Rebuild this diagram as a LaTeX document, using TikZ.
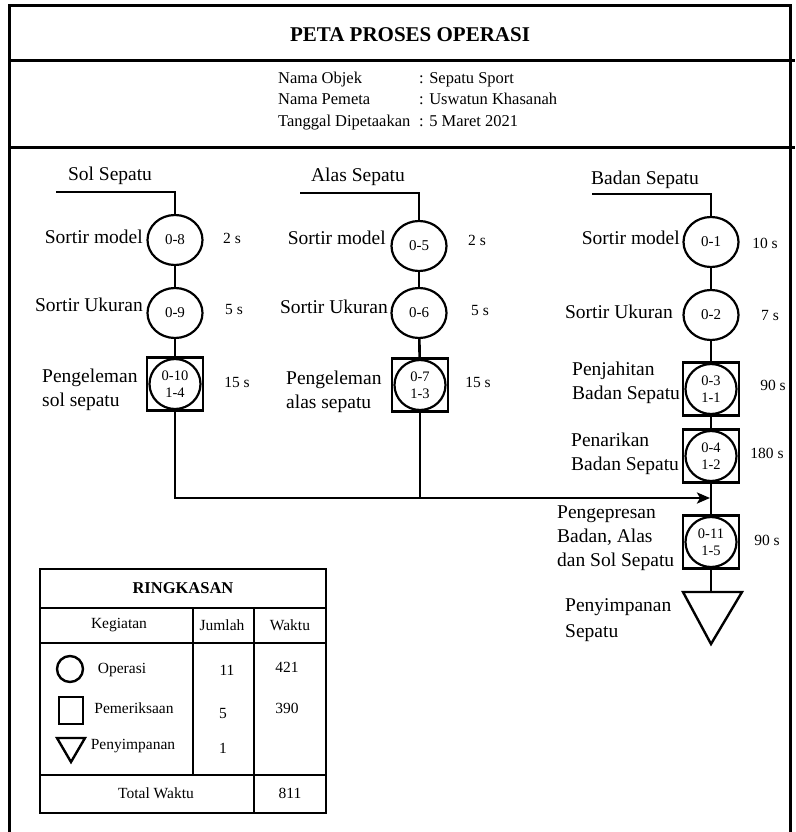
\documentclass[tikz,border=0pt]{standalone}
\usepackage{fontspec}
\setmainfont{Liberation Serif}
\usetikzlibrary{shapes.geometric,arrows.meta}
\begin{document}
\begin{tikzpicture}[x=1pt,y=-1pt,
 frame/.style={line width=3pt},
 conn/.style={line width=2.6pt},
 op/.style={draw,ellipse,line width=2.2pt,minimum width=55pt,minimum height=50pt,inner sep=0pt,font=\fontsize{15}{17}\selectfont},
 insp/.style={draw,rectangle,line width=2.4pt,minimum width=56pt,minimum height=53pt,inner sep=0pt},
 opin/.style={draw,ellipse,line width=2.2pt,minimum width=51pt,minimum height=50pt,inner sep=0pt,align=center,font=\fontsize{14.5}{17}\selectfont},
 lbl/.style={font=\fontsize{19.5}{24}\selectfont,inner sep=0pt},
 tm/.style={font=\fontsize{15.5}{18}\selectfont,inner sep=0pt},
 hd/.style={font=\fontsize{16.5}{20}\selectfont,inner sep=0pt,anchor=base west},
 tb/.style={font=\fontsize{15.5}{18}\selectfont,inner sep=0pt},
 tline/.style={line width=2.8pt},
 sym/.style={line width=2.4pt}]
\useasboundingbox (0,0) rectangle (795,832);

% frame
\draw[frame] (9,832) -- (9,6) -- (790,6) -- (790,832);
\draw[frame] (9,61) -- (795,61);
\draw[frame] (9,147) -- (795,147);

\node[font=\bfseries\fontsize{21}{25}\selectfont] (title) at (410,35) {PETA PROSES OPERASI};

\node[hd] (h1) at (278,84) {Nama Objek};
\node[hd] (h1v) at (419,84) {: Sepatu Sport};
\node[hd] (h2) at (278,105) {Nama Pemeta};
\node[hd] (h2v) at (419,105) {: Uswatun Khasanah};
\node[hd] (h3) at (278,127) {Tanggal Dipetaakan};
\node[hd] (h3v) at (419,127) {: 5 Maret 2021};

% column 1: Sol Sepatu
\coordinate (solstart) at (56,192);
\node[lbl] (solL) at (110,176) {Sol Sepatu};
\node[op] (o8) at (175,240) {0-8};
\node[op] (o9) at (175,313) {0-9};
\node[insp] (s10) at (175,384) {};
\node[opin] (c10) at (175,384) {0-10\\1-4};
\node[lbl,anchor=east] (l8) at (143,237) {Sortir model};
\node[lbl,anchor=east] (l9) at (143,305) {Sortir Ukuran};
\node[lbl,anchor=west,align=left] (l10) at (42,390) {Pengeleman\\sol sepatu};
\node[tm] (t8) at (232,238) {2 s};
\node[tm] (t9) at (234,309) {5 s};
\node[tm] (t10) at (237,382) {15 s};

% column 2: Alas Sepatu
\coordinate (alasstart) at (300,193);
\node[lbl] (alasL) at (358,177) {Alas Sepatu};
\node[op] (o5) at (419,246) {0-5};
\node[op] (o6) at (419,313) {0-6};
\node[insp] (s7) at (420,385) {};
\node[opin] (c7) at (420,385) {0-7\\1-3};
\node[lbl,anchor=east] (l5) at (386,238) {Sortir model};
\node[lbl,anchor=east] (l6) at (388,307) {Sortir Ukuran};
\node[lbl,anchor=west,align=left] (l7) at (286,392) {Pengeleman\\alas sepatu};
\node[tm] (t5) at (477,240) {2 s};
\node[tm] (t6) at (480,310) {5 s};
\node[tm] (t7) at (478,382) {15 s};

% column 3: Badan Sepatu
\coordinate (badanstart) at (592,194);
\node[lbl] (badanL) at (645,180) {Badan Sepatu};
\node[op] (o1) at (711,242) {0-1};
\node[op] (o2) at (711,315) {0-2};
\node[insp] (s3) at (711,389) {};
\node[opin] (c3) at (711,389) {0-3\\1-1};
\node[insp] (s4) at (711,456) {};
\node[opin] (c4) at (711,456) {0-4\\1-2};
\node[insp] (s11) at (711,542) {};
\node[opin] (c11) at (711,542) {0-11\\1-5};
\coordinate (tritop) at (711,592);
\coordinate (trileft) at (683,592);
\coordinate (triright) at (742,592);
\coordinate (tribot) at (711,644);
\draw[sym] (trileft) -- (triright) -- (tribot) -- cycle;

\node[lbl,anchor=east] (l1) at (680,238) {Sortir model};
\node[lbl,anchor=east] (l2) at (673,312) {Sortir Ukuran};
\node[lbl,anchor=west,align=left] (l3) at (572,383) {Penjahitan\\Badan Sepatu};
\node[lbl,anchor=west,align=left] (l4) at (571,454) {Penarikan\\Badan Sepatu};
\node[lbl,anchor=west,align=left] (l11) at (557,538) {Pengepresan\\Badan, Alas\\dan Sol Sepatu};
\node[lbl,anchor=west,align=left,font=\fontsize{19.5}{26}\selectfont] (lst) at (565,620) {Penyimpanan\\Sepatu};
\node[tm] (t1) at (765,243) {10 s};
\node[tm] (t2) at (770,315) {7 s};
\node[tm] (t3) at (773,385) {90 s};
\node[tm] (t4) at (767,453) {180 s};
\node[tm] (t11) at (767,540) {90 s};

% connectors
\draw[conn] (solstart) -| (o8.north);
\draw[conn] (o8) -- (o9);
\draw[conn] (o9) -- (s10);
\draw[conn] (alasstart) -| (o5.north);
\draw[conn] (o5) -- (o6);
\draw[conn] (o6) -- (s7);
\draw[conn] (badanstart) -| (o1.north);
\draw[conn] (o1) -- (o2);
\draw[conn] (o2) -- (s3);
\draw[conn] (s3) -- (s4);
\draw[conn] (s4) -- (s11);
\draw[conn] (s11.south) -- (tritop);
\coordinate (mergeR) at (710,498);
\draw[conn,-{Stealth[length=13pt,width=11pt,inset=3pt]}] (s10.south) |- (mergeR);
\draw[conn] (s7.south) -- (s7.south |- mergeR);

% summary table
\draw[tline] (40,569) rectangle (326,813);
\draw[tline] (40,608) -- (326,608);
\draw[tline] (40,643) -- (326,643);
\draw[tline] (40,775) -- (326,775);
\draw[tline] (193,608) -- (193,775);
\draw[tline] (254,608) -- (254,813);
\node[font=\bfseries\fontsize{16.5}{19}\selectfont] (ring) at (183,588) {RINGKASAN};
\node[tb] (kg) at (119,625) {Kegiatan};
\node[tb] (jm) at (222,625) {Jumlah};
\node[tb] (wk) at (290,625) {Waktu};
\draw[sym] (70,669) circle (13);
\draw[sym] (59,697) rectangle (83,724);
\draw[sym] (57,738) -- (85,738) -- (71,762) -- cycle;
\node[tb] (opr) at (122,670) {Operasi};
\node[tb] (pem) at (134,708) {Pemeriksaan};
\node[tb] (pny) at (133,746) {Penyimpanan};
\node[tb] (j1) at (227,670) {11};
\node[tb] (j2) at (223,713) {5};
\node[tb] (j3) at (223,748) {1};
\node[tb] (w1) at (287,667) {421};
\node[tb] (w2) at (287,708) {390};
\node[tb] (tot) at (156,793) {Total Waktu};
\node[tb] (wt) at (290,793) {811};
\end{tikzpicture}
\end{document}
